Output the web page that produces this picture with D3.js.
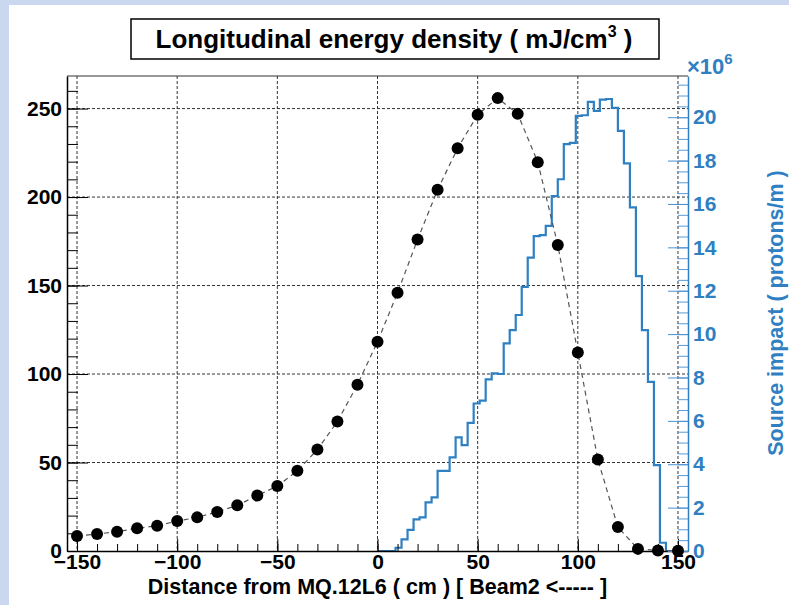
<!DOCTYPE html>
<html>
<head>
<meta charset="utf-8">
<script src="https://cdn.jsdelivr.net/npm/d3@7"></script>
<style>
  body { margin: 0; background: #c9d8ef; }
  text { font-family: "Liberation Sans", Arial, sans-serif; font-weight: bold; }
</style>
</head>
<body>
<div id="chart"></div>
<script>
// energy density points (mJ/cm3) vs distance (cm)
var distance = [-150, -140, -130, -120, -110, -100, -90, -80, -70, -60, -50, -40, -30, -20, -10,
                0, 10, 20, 30, 40, 50, 60, 70, 80, 90, 100, 110, 120, 130, 140, 150];
var energy = [8.5, 9.6, 10.9, 12.8, 14.3, 16.9, 19.0, 22.1, 25.8, 31.3, 36.7, 45.3, 57.3, 73.2, 94.0,
              118.2, 145.9, 176.0, 204.1, 227.6, 246.5, 255.9, 247.0, 219.7, 172.9, 112.2, 51.7, 13.5, 1.2, 0.3, 0.2];

// source impact histogram, 3 cm bins (lower edge), x10^6 protons/m
var binStart = [0, 3, 6, 9, 12, 15, 18, 21, 24, 27, 30, 33, 36, 39, 42, 45, 48, 51, 54, 57,
                60, 63, 66, 69, 72, 75, 78, 81, 84, 87, 90, 93, 96, 99, 102, 105, 108, 111, 114, 117,
                120, 123, 126, 129, 132, 135, 138, 141, 144, 147];
var impact = [0, 0, 0, 0.15, 0.54, 0.97, 1.46, 1.55, 2.24, 2.47, 3.69, 3.69, 4.32, 5.24, 4.88, 5.91, 6.80, 6.93, 7.91, 8.19,
              8.16, 9.57, 10.18, 10.88, 12.18, 13.53, 14.52, 14.56, 14.99, 16.36, 17.14, 18.76, 18.82, 20.06, 20.09, 20.71, 20.29, 20.81, 20.84, 20.43,
              19.37, 17.87, 15.84, 12.67, 10.18, 7.80, 3.96, 0.38, 0, 0];
var binEnd = 150;

var xTicks = [-150, -100, -50, 0, 50, 100, 150];
var yTicks = [0, 50, 100, 150, 200, 250];
var y2Ticks = [0, 2, 4, 6, 8, 10, 12, 14, 16, 18, 20];

var width = 789, height = 605;
var blue = "#2f80c2";

var svg = d3.select("#chart").append("svg")
  .attr("width", width)
  .attr("height", height);

// white canvas
svg.append("rect").attr("x", 9).attr("y", 5).attr("width", width - 9).attr("height", height - 5).attr("fill", "#fff");

var x = d3.scaleLinear().domain([-155, 155]).range([67, 688]);
var y = d3.scaleLinear().domain([0, 268.4]).range([551, 76]);
var y2 = d3.scaleLinear().domain([0, 21.9]).range([551, 76]);

// grid
var grid = svg.append("g").attr("stroke", "#333").attr("stroke-width", 1).attr("stroke-dasharray", "3,2");
grid.selectAll(".gx").data(xTicks).enter().append("line")
  .attr("x1", function(d){ return x(d) }).attr("x2", function(d){ return x(d) })
  .attr("y1", 76).attr("y2", 551);
grid.selectAll(".gy").data(yTicks.slice(1)).enter().append("line")
  .attr("x1", 67).attr("x2", 688)
  .attr("y1", function(d){ return y(d) }).attr("y2", function(d){ return y(d) });

// top frame
svg.append("line").attr("x1", 67).attr("x2", 688).attr("y1", 76).attr("y2", 76)
  .attr("stroke", "#333").attr("stroke-width", 1.2);

// histogram
var histPts = binStart.map(function(b, i){ return [b, impact[i]] });
histPts.push([binEnd, 0]);
svg.append("path")
  .datum(histPts)
  .attr("fill", "none")
  .attr("stroke", blue)
  .attr("stroke-width", 2.2)
  .attr("d", d3.line()
    .x(function(d){ return x(d[0]) })
    .y(function(d){ return y2(d[1]) })
    .curve(d3.curveStepAfter));

// left axis
var minorY = d3.range(0, 261, 10);
svg.append("g").attr("transform", "translate(67,0)")
  .call(d3.axisLeft(y).tickValues(minorY).tickSize(-11).tickSizeOuter(0).tickFormat(""))
  .call(function(g){ g.select(".domain").remove() })
  .selectAll("line").attr("stroke", "#000");
var ly = svg.append("g").attr("transform", "translate(67,0)")
  .call(d3.axisLeft(y).tickValues(yTicks).tickSize(-21).tickSizeOuter(0).tickPadding(5));
ly.select(".domain").attr("stroke", "#000").attr("stroke-width", 1.5);
ly.selectAll("text").attr("font-size", 21).attr("font-family", "Liberation Sans, Arial").attr("font-weight", "bold").attr("fill", "#000");

// bottom axis
var minorX = d3.range(-150, 151, 10);
svg.append("g").attr("transform", "translate(0,551)")
  .call(d3.axisBottom(x).tickValues(minorX).tickSize(-7).tickSizeOuter(0).tickFormat(""))
  .call(function(g){ g.select(".domain").remove() })
  .selectAll("line").attr("stroke", "#000");
var bx = svg.append("g").attr("transform", "translate(0,551)")
  .call(d3.axisBottom(x).tickValues(xTicks).tickSize(-12).tickSizeOuter(0).tickPadding(3));
bx.select(".domain").attr("stroke", "#000").attr("stroke-width", 1.5);
bx.selectAll("text").attr("font-size", 21).attr("font-family", "Liberation Sans, Arial").attr("font-weight", "bold").attr("fill", "#000");

// right axis
var minorY2 = d3.range(0, 21.6, 0.5);
svg.append("g").attr("transform", "translate(688,0)")
  .call(d3.axisRight(y2).tickValues(minorY2).tickSize(-10).tickSizeOuter(0).tickFormat(""))
  .call(function(g){ g.select(".domain").remove() })
  .selectAll("line").attr("stroke", "#5b9bd5");
var ry = svg.append("g").attr("transform", "translate(688,0)")
  .call(d3.axisRight(y2).tickValues(y2Ticks).tickSize(-20).tickSizeOuter(0).tickPadding(5));
ry.select(".domain").attr("stroke", blue).attr("stroke-width", 1.5);
ry.selectAll("line").attr("stroke", "#4a90d0");
ry.selectAll("text").attr("font-size", 21).attr("font-family", "Liberation Sans, Arial").attr("font-weight", "bold").attr("fill", blue);

// energy density points
svg.append("path")
  .datum(distance)
  .attr("fill", "none")
  .attr("stroke", "#555")
  .attr("stroke-width", 1.2)
  .attr("stroke-dasharray", "5,4")
  .attr("d", d3.line()
    .x(function(d){ return x(d) })
    .y(function(d, i){ return y(energy[i]) }));
svg.selectAll(".dot")
  .data(distance)
  .enter().append("circle")
  .attr("class", "dot")
  .attr("cx", function(d){ return x(d) })
  .attr("cy", function(d, i){ return y(energy[i]) })
  .attr("r", 6)
  .attr("fill", "#000");

// title box
svg.append("rect").attr("x", 131).attr("y", 19).attr("width", 528).attr("height", 40)
  .attr("fill", "#fff").attr("stroke", "#000").attr("stroke-width", 1.5);
var title = svg.append("text").attr("x", 394).attr("y", 48).attr("text-anchor", "middle")
  .attr("font-size", 26);
title.append("tspan").text("Longitudinal energy density ( mJ/cm");
title.append("tspan").attr("font-size", 16).attr("dy", -11).text("3");
title.append("tspan").attr("dy", 11).text(" )");

// axis titles
svg.append("text").attr("x", 377.5).attr("y", 594).attr("text-anchor", "middle")
  .attr("font-size", 21.5).text("Distance from MQ.12L6 ( cm ) [ Beam2 <----- ]");
svg.append("text").attr("transform", "translate(783,313) rotate(-90)").attr("text-anchor", "middle")
  .attr("font-size", 21.5).attr("fill", blue).text("Source impact ( protons/m )");

var mult = svg.append("text").attr("x", 687).attr("y", 74).attr("fill", blue).attr("font-weight", "normal").attr("font-size", 22);
mult.append("tspan").text("×10");
mult.append("tspan").attr("font-size", 15).attr("dy", -10).text("6");
</script>
</body>
</html>
